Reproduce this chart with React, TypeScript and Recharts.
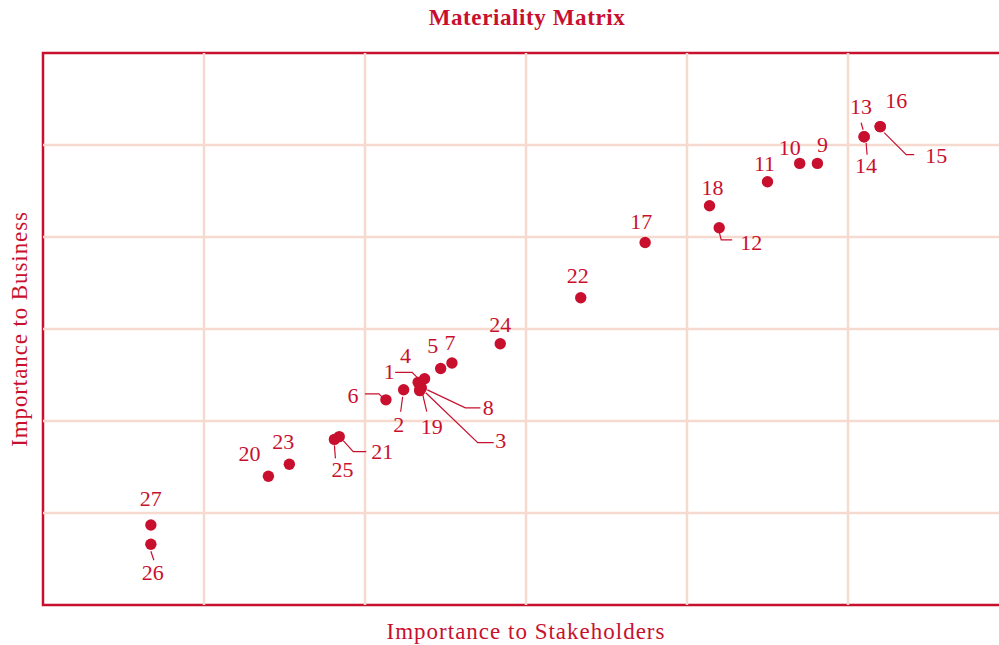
import { ScatterChart, Scatter, XAxis, YAxis, ReferenceLine, ReferenceArea } from 'recharts';

const RED = '#c8102e';
const GRID = '#f7dacf';
const FONT = '"Liberation Serif", serif';

// issue number, importance to stakeholders (x), importance to business (y)
const issues = ['1', '2', '3', '4', '5', '6', '7', '8', '9', '10', '11', '12', '13', '14', '15', '16', '17', '18', '19', '20', '25', '21', '22', '23', '24', '26', '27'];
const stakeholders = [2.33, 2.24, 2.34, 2.37, 2.47, 2.13, 2.54, 2.35, 4.81, 4.7, 4.5, 4.2, 5.1, 5.1, 5.2, 5.2, 3.74, 4.14, 2.34, 1.4, 1.81, 1.84, 3.34, 1.53, 2.84, 0.67, 0.67];
const business = [2.42, 2.34, 2.34, 2.46, 2.57, 2.23, 2.63, 2.36, 4.8, 4.8, 4.6, 4.1, 5.09, 5.09, 5.2, 5.2, 3.94, 4.34, 2.33, 1.4, 1.8, 1.83, 3.34, 1.53, 2.84, 0.66, 0.87];
const gridLines = [1, 2, 3, 4, 5];

const data = issues.map((id, i) => ({ id, x: stakeholders[i], y: business[i] }));

// label placement relative to the dot: text centre/baseline offset and optional leader line
const labelPos: Record<string, { dx: number; dy: number; leader?: number[][] }> = {
  '27': { dx: 0, dy: -19 },
  '26': { dx: 2, dy: 36, leader: [[0, 7], [3, 16]] },
  '20': { dx: -19, dy: -15 },
  '23': { dx: -6, dy: -15 },
  '25': { dx: 8, dy: 38, leader: [[0, 6], [1, 19]] },
  '21': { dx: 43, dy: 22, leader: [[4, 4], [14, 15], [27, 15]] },
  '6': { dx: -33, dy: 3, leader: [[-21, -6], [-7, -6], [-3, -2]] },
  '2': { dx: -5, dy: 42, leader: [[-1, 7], [-3, 22]] },
  '1': { dx: -29, dy: -3, leader: [[-23, -10], [-6, -10], [-1, -5]] },
  '4': { dx: -19, dy: -16 },
  '5': { dx: -8, dy: -16 },
  '7': { dx: -2, dy: -13 },
  '8': { dx: 67, dy: 27, leader: [[6, 2], [44, 20], [59, 20]] },
  '19': { dx: 12, dy: 43, leader: [[3, 4], [7, 21]] },
  '3': { dx: 81, dy: 58, leader: [[6, 3], [58, 53], [74, 53]] },
  '24': { dx: 0, dy: -12 },
  '22': { dx: -3, dy: -15 },
  '17': { dx: -4, dy: -14 },
  '18': { dx: 3, dy: -11 },
  '12': { dx: 32, dy: 22, leader: [[0, 4], [2, 12], [13, 12]] },
  '11': { dx: -3, dy: -11 },
  '10': { dx: -10, dy: -8 },
  '9': { dx: 5, dy: -11 },
  '13': { dx: -3, dy: -23, leader: [[-3, -14], [-1, -7]] },
  '14': { dx: 2, dy: 36, leader: [[2, 6], [3, 18]] },
  '16': { dx: 16, dy: -19 },
  '15': { dx: 56, dy: 36, leader: [[4, 6], [26, 28], [34, 28]] },
};

const Dot = (props: any) => {
  const { cx, cy, payload } = props;
  const pos = labelPos[payload.id] || { dx: 0, dy: -12 };
  return (
    <g>
      {pos.leader && (
        <polyline
          points={pos.leader.map(([a, b]) => `${cx + a},${cy + b}`).join(' ')}
          fill="none"
          stroke={RED}
          strokeWidth={1.2}
        />
      )}
      <circle cx={cx} cy={cy} r={5.7} fill={RED} />
      <text x={cx + pos.dx} y={cy + pos.dy} textAnchor="middle" fill={RED} fontSize={22} fontFamily={FONT}>
        {payload.id}
      </text>
    </g>
  );
};

export default function App() {
  return (
    <div style={{ position: 'fixed', left: 0, top: 0, width: 999, height: 645, overflow: 'hidden', background: '#fff' }}>
      <div
        style={{
          position: 'absolute',
          top: 5,
          left: 0,
          width: 1054,
          textAlign: 'center',
          color: RED,
          fontFamily: FONT,
          fontWeight: 'bold',
          fontSize: 23,
          letterSpacing: 0.6,
        }}
      >
        Materiality Matrix
      </div>
      <ScatterChart width={1015} height={645} margin={{ top: 53, right: 6, left: 0, bottom: 0 }}>
        <XAxis
          type="number"
          dataKey="x"
          domain={[0, 6]}
          tick={false}
          tickLine={false}
          axisLine={false}
          height={40}
          label={{ value: 'Importance to Stakeholders', position: 'insideBottom', offset: 6, fill: RED, fontSize: 23, fontFamily: FONT, letterSpacing: 1 }}
        />
        <YAxis
          type="number"
          dataKey="y"
          domain={[0, 6]}
          tick={false}
          tickLine={false}
          axisLine={false}
          width={43}
          label={{ value: 'Importance to Business', position: 'center', angle: -90, dx: -3, fill: RED, fontSize: 23, fontFamily: FONT, letterSpacing: 0.9 }}
        />
        {gridLines.map((v) => (
          <ReferenceLine key={`x${v}`} x={v} stroke={GRID} strokeWidth={2.5} />
        ))}
        {gridLines.map((v) => (
          <ReferenceLine key={`y${v}`} y={v} stroke={GRID} strokeWidth={2.5} />
        ))}
        <ReferenceArea x1={0} x2={6} y1={0} y2={6} fill="none" stroke={RED} strokeWidth={2.5} />
        <Scatter data={data} shape={Dot} isAnimationActive={false} />
      </ScatterChart>
    </div>
  );
}
